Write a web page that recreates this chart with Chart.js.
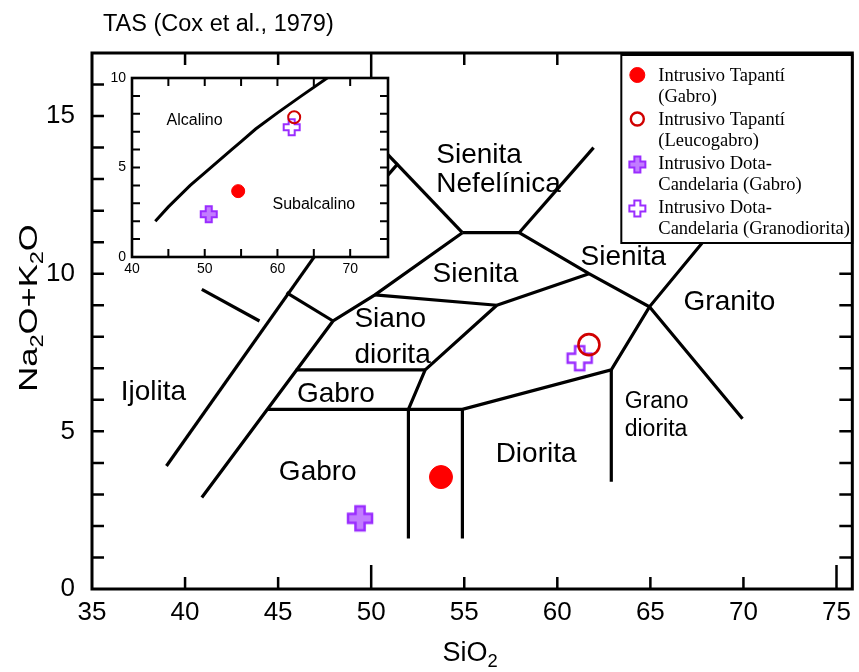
<!DOCTYPE html>
<html>
<head>
<meta charset="utf-8">
<script src="https://cdn.jsdelivr.net/npm/chart.js@4/dist/chart.umd.min.js"></script>
<style>
  html, body { margin: 0; padding: 0; background: #fff; }
  #wrap { position: relative; width: 859px; height: 672px; }
  #main { position: absolute; left: 0; top: 0; }
  #inset { position: absolute; left: 100px; top: 62px; }
</style>
</head>
<body>
<div id="wrap">
  <canvas id="main" width="859" height="672"></canvas>
  <canvas id="inset" width="300" height="222"></canvas>
</div>
<script>
// ---- samples: SiO2 and Na2O+K2O (wt %) ----
const sampleLabels = [
  'Intrusivo Tapantí\n(Gabro)',
  'Intrusivo Tapantí\n(Leucogabro)',
  'Intrusivo Dota-\nCandelaria (Gabro)',
  'Intrusivo Dota-\nCandelaria (Granodiorita)'
];
const sio2    = [53.75, 61.7, 49.4, 61.2];
const alkalis = [3.55, 7.75, 2.24, 7.32];
// the same samples as placed in the alkaline / subalkaline inset
const insetSio2    = [54.6, 62.3, 50.55, 61.95];
const insetAlkalis = [3.68, 7.81, 2.39, 7.25];

// ---- axis ticks ----
const xTickValues = [35, 40, 45, 50, 55, 60, 65, 70, 75];
const yTickValues = [0, 5, 10, 15];
const insetXTickValues = [40, 50, 60, 70];
const insetYTickValues = [0, 5, 10];

// ---- field boundaries of the plutonic TAS diagram (SiO2, Na2O+K2O) ----
const fieldLines = [
  [[39.0, 3.9], [47.5, 11.0]],
  [[40.9, 9.5], [44.0, 8.5]],
  [[45.45, 9.4], [47.95, 8.5]],
  [[40.9, 2.9], [47.95, 8.5], [50.2, 9.33], [54.9, 11.3]],
  [[49.0, 14.95], [54.9, 11.3]],
  [[50.0, 12.52], [51.45, 13.5]],
  [[50.2, 9.33], [56.75, 9.0]],
  [[56.75, 9.0], [52.9, 6.95], [52.0, 5.7]],
  [[45.95, 6.95], [52.9, 6.95]],
  [[44.45, 5.7], [54.9, 5.7], [62.9, 6.95], [64.95, 8.95], [69.5, 12.2]],
  [[52.0, 5.7], [52.0, 1.6]],
  [[54.9, 5.7], [54.9, 1.6]],
  [[62.9, 6.95], [62.9, 3.4]],
  [[54.9, 11.3], [57.95, 11.3]],
  [[57.95, 11.3], [61.95, 14.0]],
  [[57.95, 11.3], [61.7, 10.0], [64.95, 8.95], [69.95, 5.4]],
  [[56.75, 9.0], [61.7, 10.0]]
];

// alkaline / subalkaline divide (inset)
const alkalineDivide = [
  [43.2, 2.0], [45.0, 2.8], [48.0, 4.0], [50.0, 4.7], [53.7, 6.0],
  [55.0, 6.45], [57.0, 7.15], [60.0, 8.05], [63.3, 9.0], [67.2, 10.1]
];

// field names, anchored in data units
const fieldLabels = [
  { text: 'Sienita',    x: 53.5,  y: 13.83, align: 'left',   size: 28 },
  { text: 'Nefelínica', x: 53.5,  y: 12.92, align: 'left',   size: 28 },
  { text: 'Sienita',    x: 55.6,  y: 10.06, align: 'center', size: 28 },
  { text: 'Sienita',    x: 63.55, y: 10.59, align: 'center', size: 28 },
  { text: 'Granito',    x: 69.25, y: 9.17,  align: 'center', size: 28 },
  { text: 'Siano',      x: 49.1,  y: 8.64,  align: 'left',   size: 28 },
  { text: 'diorita',    x: 49.1,  y: 7.48,  align: 'left',   size: 28 },
  { text: 'Gabro',      x: 48.1,  y: 6.26,  align: 'center', size: 28 },
  { text: 'Ijolita',    x: 38.3,  y: 6.31,  align: 'center', size: 28 },
  { text: 'Gabro',      x: 47.13, y: 3.77,  align: 'center', size: 28 },
  { text: 'Diorita',    x: 58.86, y: 4.35,  align: 'center', size: 28 },
  { text: 'Grano',      x: 63.62, y: 5.99,  align: 'left',   size: 23 },
  { text: 'diorita',    x: 63.62, y: 5.10,  align: 'left',   size: 23 }
];
const insetLabels = [
  { text: 'Alcalino',    x: 48.6, y: 7.7,  align: 'center', size: 16 },
  { text: 'Subalcalino', x: 65.0, y: 2.98, align: 'center', size: 16 }
];

const SANS = '"Liberation Sans", Arial, Helvetica, sans-serif';
const SERIF = '"Liberation Serif", "Times New Roman", serif';

const RED = '#ff0000';
const RED_RING = '#d00000';
const VIOLET = '#9a2cff';
const VIOLET_FILL = '#c27cff';

// Greek-cross marker drawn into a small canvas, used as a point style
function crossMarker(size, fill, stroke, lw) {
  const pad = Math.ceil(lw);
  const c = document.createElement('canvas');
  c.width = c.height = Math.ceil(size + 2 * pad);
  const g = c.getContext('2d');
  const s = size, t = s * 0.38, a = (s - t) / 2, o = pad;
  g.beginPath();
  g.moveTo(o + a, o);         g.lineTo(o + a + t, o);
  g.lineTo(o + a + t, o + a); g.lineTo(o + s, o + a);
  g.lineTo(o + s, o + a + t); g.lineTo(o + a + t, o + a + t);
  g.lineTo(o + a + t, o + s); g.lineTo(o + a, o + s);
  g.lineTo(o + a, o + a + t); g.lineTo(o, o + a + t);
  g.lineTo(o, o + a);         g.lineTo(o + a, o + a);
  g.closePath();
  g.fillStyle = fill; g.fill();
  g.lineWidth = lw; g.strokeStyle = stroke; g.lineJoin = 'miter'; g.stroke();
  return c;
}

// marker looks for each sample, at main / inset / legend size
const markerStyles = [
  { kind: 'circle', fill: RED, stroke: RED, lw: 1, r: [11.5, 6.5, 7.5] },
  { kind: 'circle', fill: 'rgba(0,0,0,0)', stroke: RED_RING, lw: [2.6, 2, 2.4], r: [10.5, 6, 6.5] },
  { kind: 'cross', fill: VIOLET_FILL, stroke: VIOLET, size: [24, 16, 16], lw: [2.5, 2, 2] },
  { kind: 'cross', fill: '#ffffff', stroke: VIOLET, size: [24, 16, 16], lw: [2.5, 2, 2] }
];

function pick(v, i) { return Array.isArray(v) ? v[i] : v; }

function sampleDataset(k, xs, ys, which) {
  const m = markerStyles[k];
  const ds = {
    label: sampleLabels[k],
    data: [{ x: xs[k], y: ys[k] }],
    showLine: false,
    order: 0,
    markerIndex: k
  };
  if (m.kind === 'circle') {
    ds.pointStyle = 'circle';
    ds.pointRadius = pick(m.r, which);
    ds.backgroundColor = m.fill;
    ds.borderColor = m.stroke;
    ds.borderWidth = pick(m.lw, which);
  } else {
    ds.pointStyle = crossMarker(pick(m.size, which), m.fill, m.stroke, pick(m.lw, which));
    ds.pointRadius = pick(m.size, which) / 2;
  }
  return ds;
}

function boundaryDataset(points, width) {
  return {
    data: points.map(p => ({ x: p[0], y: p[1] })),
    showLine: true,
    borderColor: '#000',
    borderWidth: width,
    pointRadius: 0,
    tension: 0,
    fill: false,
    order: 2,
    borderCapStyle: 'butt',
    borderJoinStyle: 'miter'
  };
}

// text with subscript parts, e.g. [['Na',0],['2',1],...]
function subscriptWidth(ctx, parts, size) {
  let w = 0;
  parts.forEach(([t, sub]) => {
    ctx.font = `${sub ? size * 0.68 : size}px ${SANS}`;
    w += ctx.measureText(t).width;
  });
  return w;
}
function drawSubscripted(ctx, parts, cx, baseline, size) {
  let x = cx - subscriptWidth(ctx, parts, size) / 2;
  ctx.textAlign = 'left';
  ctx.textBaseline = 'alphabetic';
  parts.forEach(([t, sub]) => {
    ctx.font = `${sub ? size * 0.68 : size}px ${SANS}`;
    ctx.fillText(t, x, baseline + (sub ? size * 0.24 : 0));
    x += ctx.measureText(t).width;
  });
}

function drawFieldNames(ctx, labels, xs, ys) {
  ctx.save();
  ctx.fillStyle = '#000';
  ctx.textBaseline = 'alphabetic';
  labels.forEach(l => {
    ctx.font = `${l.size}px ${SANS}`;
    ctx.textAlign = l.align;
    ctx.fillText(l.text, xs.getPixelForValue(l.x), ys.getPixelForValue(l.y) + 0.358 * l.size);
  });
  ctx.restore();
}

const legendMarkers = markerStyles.map(m => m.kind === 'cross'
  ? crossMarker(m.size[2], m.fill, m.stroke, m.lw[2]) : null);

function drawLegendBox(chart) {
  const { ctx, chartArea: a } = chart;
  const w = 231, h = 188;
  const left = a.right - w, top = a.top + 2;
  ctx.save();
  ctx.fillStyle = '#fff';
  ctx.fillRect(left, top, w, h);
  ctx.lineWidth = 2;
  ctx.strokeStyle = '#000';
  ctx.strokeRect(left, top, w, h);
  const size = 18.5;
  const samples = chart.data.datasets.filter(d => d.label);
  samples.forEach((ds, i) => {
    const y0 = top + 18.5 + i * 44;
    const m = markerStyles[ds.markerIndex];
    const mx = left + 16;
    if (m.kind === 'circle') {
      ctx.beginPath();
      ctx.arc(mx, y0 + 1.5, m.r[2], 0, Math.PI * 2);
      if (m.fill !== 'rgba(0,0,0,0)') { ctx.fillStyle = m.fill; ctx.fill(); }
      ctx.lineWidth = pick(m.lw, 2);
      ctx.strokeStyle = m.stroke;
      ctx.stroke();
    } else {
      const img = legendMarkers[ds.markerIndex];
      ctx.drawImage(img, mx - img.width / 2, y0 + 3 - img.height / 2);
    }
    ctx.fillStyle = '#000';
    ctx.font = `${size}px ${SERIF}`;
    ctx.textAlign = 'left';
    ctx.textBaseline = 'alphabetic';
    ds.label.split('\n').forEach((line, j) => {
      ctx.fillText(line, left + 37, y0 + j * 21.8 + 0.33 * size + 1);
    });
  });
  ctx.restore();
}

// ---- main TAS chart ----
const tasDecor = {
  id: 'tasDecor',
  beforeDraw(chart) {
    const { ctx, width, height } = chart;
    ctx.save();
    ctx.fillStyle = '#fff';
    ctx.fillRect(0, 0, width, height);
    ctx.restore();
  },
  afterDatasetsDraw(chart) {
    const { ctx, chartArea: a, scales: { x, y } } = chart;
    drawFieldNames(ctx, fieldLabels, x, y);

    // inward tick marks
    ctx.save();
    ctx.strokeStyle = '#000';
    ctx.lineWidth = 2.5;
    ctx.beginPath();
    xTickValues.forEach(v => {
      if (v === 35) return;
      const len = (v === 50 || v === 75) ? 24 : 12;
      const px = x.getPixelForValue(v);
      ctx.moveTo(px, a.bottom); ctx.lineTo(px, a.bottom - len);
      ctx.moveTo(px, a.top);    ctx.lineTo(px, a.top + len);
    });
    for (let v = 1; v <= 16; v++) {
      const py = y.getPixelForValue(v);
      ctx.moveTo(a.left, py);  ctx.lineTo(a.left + 12, py);
      ctx.moveTo(a.right, py); ctx.lineTo(a.right - 13, py);
    }
    ctx.stroke();
    ctx.restore();

    drawLegendBox(chart);

    ctx.save();
    ctx.strokeStyle = '#000';
    ctx.lineWidth = 3;
    ctx.strokeRect(a.left, a.top, a.width, a.height);
    ctx.restore();
  },
  afterDraw(chart) {
    const { ctx, chartArea: a } = chart;
    ctx.save();
    ctx.fillStyle = '#000';
    ctx.font = `23.5px ${SANS}`;
    ctx.textAlign = 'left';
    ctx.textBaseline = 'alphabetic';
    ctx.fillText('TAS (Cox et al., 1979)', 103, 31);

    drawSubscripted(ctx, [['SiO', 0], ['2', 1]], (a.left + a.right) / 2 - 2, 661, 27);

    ctx.translate(37, 308);
    ctx.rotate(-Math.PI / 2);
    ctx.scale(1.33, 1);
    drawSubscripted(ctx, [['Na', 0], ['2', 1], ['O+K', 0], ['2', 1], ['O', 0]], 0, 0, 26);
    ctx.restore();
  }
};

const mainDatasets = [0, 1, 2, 3].map(k => sampleDataset(k, sio2, alkalis, 0))
  .concat(fieldLines.map(l => boundaryDataset(l, 3.2)));

new Chart(document.getElementById('main'), {
  type: 'scatter',
  data: { datasets: mainDatasets },
  options: {
    responsive: false,
    animation: false,
    devicePixelRatio: 1,
    events: [],
    layout: { padding: { left: 0, right: 2, top: 53, bottom: 0 }, autoPadding: false },
    plugins: { legend: { display: false }, tooltip: { enabled: false }, title: { display: false } },
    scales: {
      x: {
        type: 'linear', min: 35, max: 75.85,
        afterBuildTicks: s => { s.ticks = xTickValues.map(v => ({ value: v })); },
        afterFit: s => { s.height = 83; },
        grid: { display: false, drawTicks: false },
        border: { display: false },
        ticks: { color: '#000', font: { family: SANS, size: 26 }, padding: 8, maxRotation: 0, autoSkip: false }
      },
      y: {
        type: 'linear', min: 0, max: 17,
        afterBuildTicks: s => { s.ticks = yTickValues.map(v => ({ value: v })); },
        afterFit: s => { s.width = 92; },
        grid: { display: false, drawTicks: false },
        border: { display: false },
        ticks: { color: '#000', font: { family: SANS, size: 26 }, padding: 17, autoSkip: false }
      }
    }
  },
  plugins: [tasDecor]
});

// ---- alkaline / subalkaline inset ----
const insetDecor = {
  id: 'insetDecor',
  beforeDatasetsDraw(chart) {
    const { ctx, chartArea: a } = chart;
    ctx.save();
    ctx.fillStyle = '#fff';
    ctx.fillRect(a.left, a.top, a.width, a.height);
    ctx.restore();
  },
  afterDatasetsDraw(chart) {
    const { ctx, chartArea: a, scales: { x, y } } = chart;
    drawFieldNames(ctx, insetLabels, x, y);
    ctx.save();
    ctx.strokeStyle = '#000';
    ctx.lineWidth = 2;
    ctx.beginPath();
    for (let v = 45; v <= 70; v += 5) {
      const px = x.getPixelForValue(v);
      ctx.moveTo(px, a.bottom); ctx.lineTo(px, a.bottom - 8);
      ctx.moveTo(px, a.top);    ctx.lineTo(px, a.top + 8);
    }
    for (let v = 1; v <= 9; v++) {
      const py = y.getPixelForValue(v);
      ctx.moveTo(a.left, py);  ctx.lineTo(a.left + 8, py);
      ctx.moveTo(a.right, py); ctx.lineTo(a.right - 8, py);
    }
    ctx.stroke();
    ctx.lineWidth = 2.6;
    ctx.strokeRect(a.left, a.top, a.width, a.height);
    ctx.restore();
  }
};

const insetDatasets = [0, 1, 2, 3].map(k => sampleDataset(k, insetSio2, insetAlkalis, 1))
  .concat([boundaryDataset(alkalineDivide, 3)]);

new Chart(document.getElementById('inset'), {
  type: 'scatter',
  data: { datasets: insetDatasets },
  options: {
    responsive: false,
    animation: false,
    devicePixelRatio: 1,
    events: [],
    layout: { padding: { left: 0, right: 12, top: 16, bottom: 0 }, autoPadding: false },
    plugins: { legend: { display: false }, tooltip: { enabled: false }, title: { display: false } },
    scales: {
      x: {
        type: 'linear', min: 40, max: 75.2,
        afterBuildTicks: s => { s.ticks = insetXTickValues.map(v => ({ value: v })); },
        afterFit: s => { s.height = 27; },
        grid: { display: false, drawTicks: false },
        border: { display: false },
        ticks: { color: '#000', font: { family: SANS, size: 14 }, padding: 4, maxRotation: 0, autoSkip: false }
      },
      y: {
        type: 'linear', min: 0, max: 10,
        afterBuildTicks: s => { s.ticks = insetYTickValues.map(v => ({ value: v })); },
        afterFit: s => { s.width = 32; },
        grid: { display: false, drawTicks: false },
        border: { display: false },
        ticks: { color: '#000', font: { family: SANS, size: 14 }, padding: 6, autoSkip: false }
      }
    }
  },
  plugins: [insetDecor]
});
</script>
</body>
</html>
